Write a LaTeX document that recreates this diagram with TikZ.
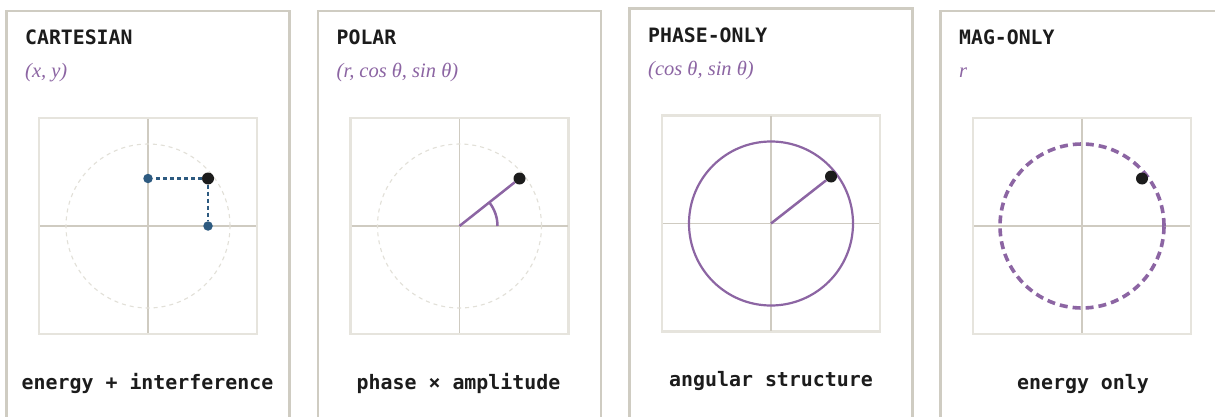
\documentclass[tikz,border=0pt]{standalone}
\usepackage{fontspec}
\usetikzlibrary{angles}
\newfontfamily\monofnt{DejaVu Sans Mono}
\newfontfamily\subfnt{Liberation Serif}
\definecolor{framec}{HTML}{CFCCC2}
\definecolor{boxc}{HTML}{E6E4DD}
\definecolor{axisc}{HTML}{CFCBC1}
\definecolor{faintc}{HTML}{E2E0D8}
\definecolor{purp}{HTML}{8C65A3}
\definecolor{bluec}{HTML}{2D5A80}
\definecolor{inkc}{HTML}{1C1C1C}
\newcommand\drawpanel[2]{%
  \draw[frame] (#1-141.5,430) -- (#1-141.5,#2-215) -- (#1+141.5,#2-215) -- (#1+141.5,430);
  \draw[plotbox] (#1-109,#2-108) rectangle (#1+109,#2+108);
  \draw[axis] (#1-108,#2) -- (#1+108,#2);
  \draw[axis] (#1,#2-107) -- (#1,#2+107);
}
\begin{document}
\begin{tikzpicture}[x=1pt,y=-1pt,
  frame/.style={draw=framec, line width=2.2pt},
  plotbox/.style={draw=boxc, line width=2.2pt},
  axis/.style={draw=axisc, line width=1.3pt},
  faint/.style={draw=faintc, line width=1.1pt, dash pattern=on 4pt off 4pt},
  dot/.style={circle, fill=inkc, inner sep=0pt, minimum size=12pt},
  bdot/.style={circle, fill=bluec, inner sep=0pt, minimum size=9.5pt},
  bluedash/.style={draw=bluec, line width=2.2pt, dash pattern=on 4pt off 3pt},
  purpline/.style={draw=purp, line width=2.5pt},
  title/.style={anchor=base west, inner sep=0pt, font=\monofnt\bfseries\fontsize{19.8}{20}\selectfont, text=inkc},
  sub/.style={anchor=base west, inner sep=0pt, font=\subfnt\itshape\fontsize{20.5}{21}\selectfont, text=purp},
  caption/.style={anchor=base, inner sep=0pt, font=\monofnt\bfseries\fontsize{19.9}{20}\selectfont, text=inkc}]
\useasboundingbox[fill=white] (0,0) rectangle (1215,417);
\clip (0,0) rectangle (1215,417);

% ---------- panel 1: Cartesian
\drawpanel{148}{226}
\draw[faint] (148,226) circle[radius=82pt];
\node[title] (t1) at (25,45) {CARTESIAN};
\node[sub] (s1) at (25,78) {(x, y)};
\node[caption] (c1) at (147.5,389) {energy + interference};
\node[dot] (p1) at (208,178.5) {};
\node[bdot] (bx1) at (148,178.5) {};
\node[bdot] (by1) at (208,226) {};
\draw[bluedash] (p1) -- (bx1);
\draw[bluedash] (p1) -- (by1);

% ---------- panel 2: Polar
\drawpanel{459.5}{226}
\draw[faint] (459.5,226) circle[radius=82pt];
\node[title] (t2) at (336.5,45) {POLAR};
\node[sub] (s2) at (336.5,78) {(r, cos θ, sin θ)};
\node[caption] (c2) at (458.5,389) {phase × amplitude};
\coordinate (o2) at (459.5,226);
\coordinate (xa2) at (530,226);
\node[dot] (p2) at (519.5,178.5) {};
\draw[purpline] (o2) -- (p2);
\pic[draw=purp, line width=2.5pt, angle radius=38pt] {angle = xa2--o2--p2};

% ---------- panel 3: Phase-only
\drawpanel{771}{223.5}
\draw[purp, line width=2.2pt] (771,223.5) circle[radius=82pt];
\node[title] (t3) at (648,42.5) {PHASE-ONLY};
\node[sub] (s3) at (648,75.5) {(cos θ, sin θ)};
\node[caption] (c3) at (771,386.5) {angular structure};
\coordinate (o3) at (771,223.5);
\node[dot] (p3) at (831,176.5) {};
\draw[purpline] (o3) -- (p3);

% ---------- panel 4: Mag-only
\drawpanel{1082}{226}
\draw[purp, line width=3.6pt, dash pattern=on 8pt off 5pt] (1082,226) circle[radius=82pt];
\node[title] (t4) at (959,45) {MAG-ONLY};
\node[sub] (s4) at (959,78) {r};
\node[caption] (c4) at (1083,389) {energy only};
\node[dot] (p4) at (1142,178.5) {};
\end{tikzpicture}
\end{document}
